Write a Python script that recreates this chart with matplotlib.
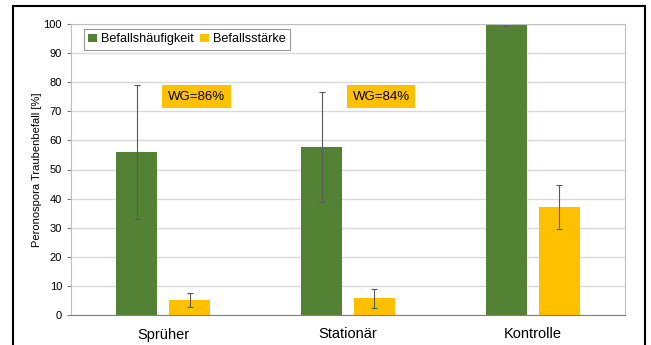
import numpy as np
import matplotlib.pyplot as plt
from matplotlib.patches import Rectangle

plt.rcParams["font.family"] = ["Liberation Sans", "DejaVu Sans"]

# Peronospora Traubenbefall je Variante
varianten = ["Sprüher", "Stationär", "Kontrolle"]
haeufigkeit = [56.0, 57.8, 99.7]
haeufigkeit_err = [23.0, 19.0, 0.3]
staerke = [5.2, 5.7, 37.1]
staerke_err = [2.3, 3.4, 7.5]
wg_texte = ["WG=86%", "WG=84%"]

GREEN = "#548235"
YELLOW = "#FFC000"

W, H = 651, 345
fig = plt.figure(figsize=(W / 100, H / 100), dpi=100)
ax = fig.add_axes([71 / W, 1 - 315 / H, (625 - 71) / W, (315 - 24) / H])

x = np.arange(len(varianten))
bw = 0.222
off = 0.143
err_kw = dict(ecolor="#595959", elinewidth=0.8, capsize=2, capthick=0.8)
ax.bar(x - off, haeufigkeit, bw, color=GREEN, yerr=haeufigkeit_err,
       error_kw=err_kw, label="Befallshäufigkeit", zorder=2)
ax.bar(x + off, staerke, bw, color=YELLOW, yerr=staerke_err,
       error_kw=err_kw, label="Befallsstärke", zorder=2)

ax.set_xlim(-0.5, 2.5)
ax.set_ylim(0, 100)
ax.set_yticks(range(0, 101, 10))
ax.yaxis.grid(True, color="#d9d9d9", linewidth=1)
ax.set_axisbelow(True)
ax.tick_params(axis="y", labelsize=8, length=3, color="#808080")
ax.tick_params(axis="x", length=0, labelsize=10.5, pad=9)
ax.set_xticks(x)
ax.set_xticklabels(varianten)
ax.set_ylabel("Peronospora Traubenbefall [%]", fontsize=8, labelpad=1)

for side in ["top", "right", "left"]:
    ax.spines[side].set_color("#bfbfbf")
ax.spines["bottom"].set_color("#808080")

# Wirkungsgrad-Beschriftungen
for i, txt in enumerate(wg_texte):
    ax.text(x[i] + 0.18, 75, txt, fontsize=9.5, ha="center", va="center",
            bbox=dict(facecolor=YELLOW, edgecolor="none", pad=4))

leg = ax.legend(loc="upper left", ncol=2, fontsize=9.1, frameon=True,
                fancybox=False, edgecolor="#808080", handlelength=0.7,
                handleheight=0.7, handletextpad=0.3, columnspacing=0.5,
                borderpad=0.35, borderaxespad=0,
                bbox_to_anchor=(0.023, 0.983))
leg.get_frame().set_linewidth(0.8)

# Rahmen um die Grafik (unten abgeschnitten)
fig.patches.append(Rectangle((13 / W, -10 / H), (645 - 13) / W, (339 + 10) / H,
                             transform=fig.transFigure, fill=False,
                             edgecolor="black", linewidth=1.5))

fig.savefig("out.png", dpi=100)
